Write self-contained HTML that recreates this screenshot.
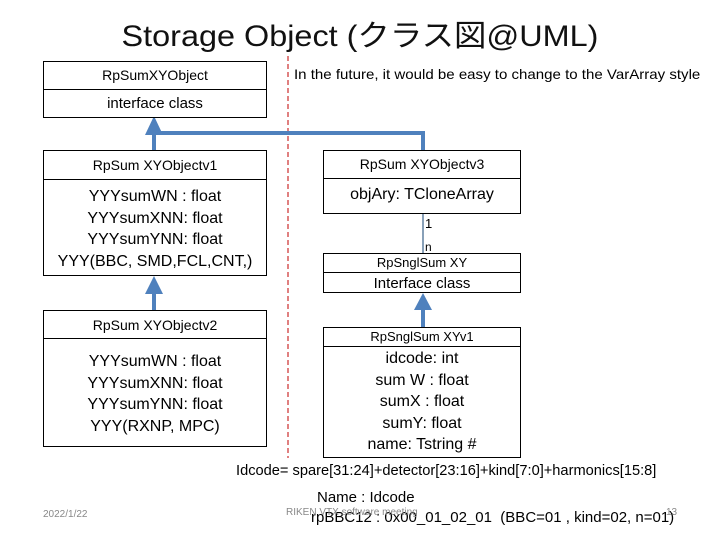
<!DOCTYPE html>
<html><head><meta charset="utf-8"><style>
body{margin:0;width:720px;height:540px;background:#fff;position:relative;overflow:hidden;font-family:"Liberation Sans Narrow","Liberation Sans","Noto Sans CJK JP",sans-serif;color:#000}
.b{position:absolute;border:1.5px solid #000;box-sizing:border-box;background:#fff}
.d{position:absolute;left:0;right:0;border-top:1.5px solid #000}
.c{position:absolute;left:0;right:0;text-align:center;white-space:nowrap}
</style></head><body>
<div class="c" style="top:11px;font-size:30px;font-family:'Liberation Sans','Noto Sans CJK JP',sans-serif;transform:scaleX(1.08);color:#111">Storage Object (クラス図@UML)</div>
<svg width="720" height="540" style="position:absolute;left:0;top:0">
<line x1="288" y1="56" x2="288" y2="458" stroke="#c00000" stroke-width="1" stroke-dasharray="5,3"/>
<g stroke="#4f81bd" stroke-width="4" fill="none">
<polyline points="154,150 154,133 423,133 423,150"/>
<line x1="154" y1="310" x2="154" y2="290"/>
<line x1="423" y1="327" x2="423" y2="306"/>
</g>
<g fill="#4f81bd">
<polygon points="154,116 145,135 163,135"/>
<polygon points="154,276 145,294 163,294"/>
<polygon points="423,293 414,310 432,310"/>
</g>
<line x1="423" y1="213" x2="423" y2="253" stroke="#6080a0" stroke-width="1.5"/>
</svg>
<div class="b" style="left:43px;top:61px;width:224px;height:57px"><div class="d" style="top:27px"></div>
<div class="c" style="top:5px;font-size:14px">RpSumXYObject</div><div class="c" style="top:33px;font-size:15px">interface class</div></div>
<div style="position:absolute;left:294px;top:66px;font-size:14px;transform:scaleX(1.075);transform-origin:left;white-space:nowrap">In the future, it would be easy to change to the VarArray style</div>
<div class="b" style="left:43px;top:150px;width:224px;height:126px"><div class="d" style="top:28px"></div>
<div class="c" style="top:6px;font-size:14px">RpSum XYObjectv1</div>
<div class="c" style="top:35px;font-size:16px;line-height:21.5px">YYYsumWN : float<br>YYYsumXNN: float<br>YYYsumYNN: float<br>YYY(BBC, SMD,FCL,CNT,)</div></div>
<div class="b" style="left:43px;top:310px;width:224px;height:137px"><div class="d" style="top:27px"></div>
<div class="c" style="top:6px;font-size:14px">RpSum XYObjectv2</div>
<div class="c" style="top:40px;font-size:16px;line-height:21.5px">YYYsumWN : float<br>YYYsumXNN: float<br>YYYsumYNN: float<br>YYY(RXNP, MPC)</div></div>
<div class="b" style="left:323px;top:150px;width:198px;height:64px"><div class="d" style="top:27px"></div>
<div class="c" style="top:5px;font-size:14px">RpSum XYObjectv3</div>
<div class="c" style="top:35px;font-size:16px">objAry: TCloneArray</div></div>
<div style="position:absolute;left:425px;top:216px;font-size:13px">1</div>
<div style="position:absolute;left:425px;top:240px;font-size:12px">n</div>
<div class="b" style="left:323px;top:253px;width:198px;height:40px"><div class="d" style="top:18px"></div>
<div class="c" style="top:1px;font-size:13px">RpSnglSum XY</div>
<div class="c" style="top:21px;font-size:15px">Interface class</div></div>
<div class="b" style="left:323px;top:327px;width:198px;height:131px"><div class="d" style="top:18px"></div>
<div class="c" style="top:1px;font-size:13px">RpSnglSum XYv1</div>
<div class="c" style="top:20px;font-size:16px;line-height:21.5px">idcode: int<br>sum W : float<br>sumX : float<br>sumY: float<br>name: Tstring #</div></div>
<div style="position:absolute;left:236px;top:462px;font-size:15px;transform:scaleX(0.975);transform-origin:left;white-space:nowrap">Idcode= spare[31:24]+detector[23:16]+kind[7:0]+harmonics[15:8]</div>
<div style="position:absolute;left:317px;top:489px;font-size:15px;white-space:nowrap">Name : Idcode</div>
<div style="position:absolute;left:311px;top:509px;font-size:15px;white-space:nowrap">rpBBC12 : 0x00_01_02_01 &nbsp;(BBC=01 , kind=02, n=01)</div>
<div style="position:absolute;left:286px;top:507px;font-size:10px;color:#888;white-space:nowrap">RIKEN VTX software meeting</div>
<div style="position:absolute;left:666px;top:507px;font-size:10px;color:#888">13</div>
<div style="position:absolute;left:43px;top:509px;font-size:10px;color:#888">2022/1/22</div>
</body></html>
